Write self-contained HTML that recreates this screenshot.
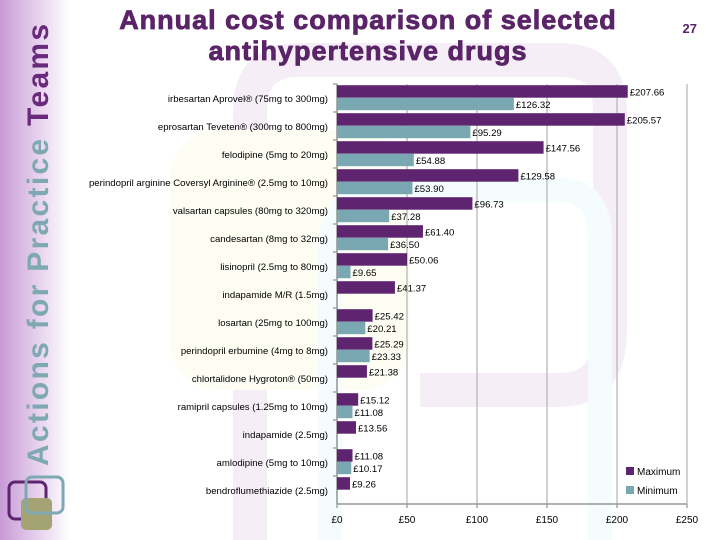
<!DOCTYPE html>
<html><head><meta charset="utf-8">
<style>
html,body{margin:0;padding:0;background:#fff}
#wrap{position:relative;width:720px;height:540px;overflow:hidden;font-family:"Liberation Sans",sans-serif}
</style></head>
<body>
<div id="wrap">
<svg id="chart" width="720" height="540" xmlns="http://www.w3.org/2000/svg">
  <defs>
    <linearGradient id="lg" x1="0" x2="1" y1="0" y2="0">
      <stop offset="0" stop-color="#c79bd6"/>
      <stop offset="0.5" stop-color="#e4cdec"/>
      <stop offset="1" stop-color="#ffffff"/>
    </linearGradient>
  </defs>
  <rect x="0" y="0" width="70" height="540" fill="url(#lg)"/>
  <path d="M250 540 V110 Q250 60 300 60 H560 Q610 60 610 110 V330 Q610 390 560 390 H420" fill="none" stroke="#f5eef7" stroke-width="34"/>
  <rect x="170" y="130" width="240" height="260" rx="50" fill="#fdfdf3"/>
  <path d="M330 540 V250 Q330 190 390 190 H560 Q600 190 600 240 V540" fill="none" stroke="#f4fcfd" stroke-width="24"/>
  <text x="48" y="466" transform="rotate(-90 48 466)" font-family="Liberation Sans, sans-serif" font-weight="bold" font-size="30" letter-spacing="2.3"><tspan fill="#7fa9b2">Actions for Practice </tspan><tspan fill="#6a2a7c">Teams</tspan></text>
  <rect x="9" y="482" width="37" height="37" rx="6" fill="none" stroke="#5e2470" stroke-width="3"/>
  <rect x="21" y="498" width="31" height="32" rx="5" fill="#a4a373"/>
  <rect x="26" y="477" width="37" height="36" rx="6" fill="none" stroke="#7fa9b2" stroke-width="3"/>
  <text x="368" y="29" text-anchor="middle" font-size="27" font-weight="bold" fill="#5b2468" stroke="#5b2468" stroke-width="0.8" letter-spacing="1">Annual cost comparison of selected</text>
  <text x="368" y="60" text-anchor="middle" font-size="27" font-weight="bold" fill="#5b2468" stroke="#5b2468" stroke-width="0.8" letter-spacing="1">antihypertensive drugs</text>
  <text x="697" y="33" text-anchor="end" font-size="13" font-weight="bold" fill="#5b2468">27</text>
  <g id="plot"></g>
</svg>
</div>
<script>
const categories = ["irbesartan Aprovel® (75mg to 300mg)","eprosartan Teveten® (300mg to 800mg)","felodipine (5mg to 20mg)","perindopril arginine Coversyl Arginine® (2.5mg to 10mg)","valsartan capsules (80mg to 320mg)","candesartan (8mg to 32mg)","lisinopril (2.5mg to 80mg)","indapamide M/R (1.5mg)","losartan (25mg to 100mg)","perindopril erbumine (4mg to 8mg)","chlortalidone Hygroton® (50mg)","ramipril capsules (1.25mg to 10mg)","indapamide (2.5mg)","amlodipine (5mg to 10mg)","bendroflumethiazide (2.5mg)"];
const maxValues = [207.66,205.57,147.56,129.58,96.73,61.40,50.06,41.37,25.42,25.29,21.38,15.12,13.56,11.08,9.26];
const minValues = [126.32,95.29,54.88,53.90,37.28,36.50,9.65,null,20.21,23.33,null,11.08,null,10.17,null];
const tickValues = [0,50,100,150,200,250];
const tickLabels = ["£0","£50","£100","£150","£200","£250"];

const NS="http://www.w3.org/2000/svg";
const plot=document.getElementById('plot');
const X0=337,X1=687,YTOP=84,YBOT=504;
const xs=v=>X0+(v-0)/(250-0)*(X1-X0);
const band=(YBOT-YTOP)/categories.length;
const ys=i=>YTOP+i*band;
function mk(tag,attrs){const e=document.createElementNS(NS,tag);for(const k in attrs)e.setAttribute(k,attrs[k]);plot.appendChild(e);return e;}

tickValues.forEach((t,i)=>{
  const g=mk('line',{x1:xs(t),x2:xs(t),y1:YTOP,y2:YBOT,stroke:'#b8b8b8','stroke-width':1.3});
  
  
  const tk=mk('line',{x1:xs(t),x2:xs(t),y1:YBOT,y2:YBOT+4,stroke:'#999','stroke-width':1.3});
  
  
  const tl=mk('text',{x:xs(t),y:YBOT+19,'text-anchor':'middle','font-size':10,fill:'#000'});
  tl.textContent=tickLabels[i];
  
  
});
const ax=mk('line',{x1:X0,x2:X1,y1:YBOT,y2:YBOT,stroke:'#999','stroke-width':1.5});


const ay=mk('line',{x1:X0,x2:X0,y1:YTOP,y2:YBOT,stroke:'#999','stroke-width':1.5});



const bh=12.5;
categories.forEach((c,i)=>{
  const y=ys(i);
  const tk=mk('line',{x1:X0-4,x2:X0,y1:y,y2:y,stroke:'#999','stroke-width':1.3});
  
  
  const lab=mk('text',{x:328,y:y+band/2+4,'text-anchor':'end','font-size':9.6,fill:'#000'});
  lab.textContent=c;
  
  
  const mv=maxValues[i];
  const b=mk('rect',{x:X0,y:y+1.2,width:xs(mv)-X0,height:bh,fill:'#5e2470'});
  
  
  const t=mk('text',{x:xs(mv)+2,y:y+1.2+bh-2,'font-size':9.6,fill:'#000'});
  t.textContent='£'+mv.toFixed(2);
  
  
  const nv=minValues[i];
  if(nv!==null){
    const b2=mk('rect',{x:X0,y:y+1.2+bh,width:xs(nv)-X0,height:bh,fill:'#7aa8b2'});
    
    
    const t2=mk('text',{x:xs(nv)+2,y:y+1.2+2*bh-2,'font-size':9.6,fill:'#000'});
    t2.textContent='£'+nv.toFixed(2);
    
    
  }
});
const l1=mk('rect',{x:626,y:467,width:8,height:8,fill:'#5e2470'});


const l1t=mk('text',{x:637,y:475,'font-size':10,fill:'#000'});
l1t.textContent='Maximum';


const l2=mk('rect',{x:626,y:486,width:8,height:8,fill:'#7aa8b2'});


const l2t=mk('text',{x:637,y:494,'font-size':10,fill:'#000'});
l2t.textContent='Minimum';


</script>
</body></html>
